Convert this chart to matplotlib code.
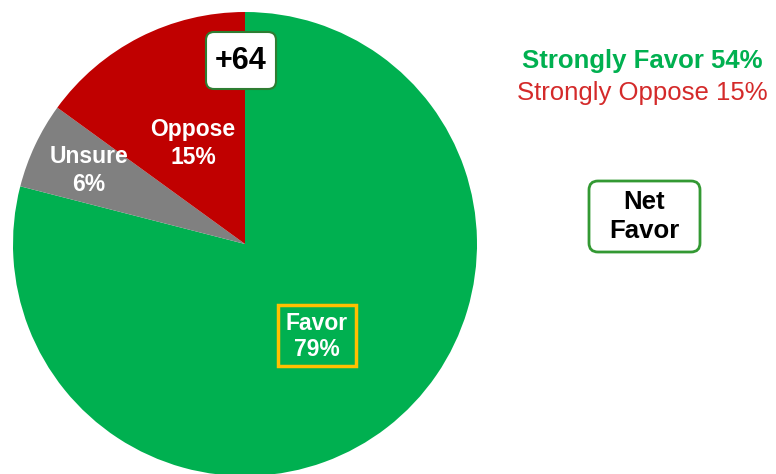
import matplotlib
matplotlib.use("Agg")
import matplotlib.pyplot as plt
from matplotlib.patches import FancyBboxPatch, Rectangle

plt.rcParams['font.family'] = ['Liberation Sans', 'DejaVu Sans']

categories = ["Favor", "Unsure", "Oppose"]
values = [79, 6, 15]
colors = ["#00B050", "#808080", "#C00000"]
strongly_favor = 54
strongly_oppose = 15
net_favor = values[0] - values[2]

W, H = 776, 474
fig = plt.figure(figsize=(W / 100, H / 100), dpi=100)
ax = fig.add_axes([0, 0, 1, 1])

def Y(y):
    return H - y

ax.pie(values, colors=colors, startangle=90, counterclock=False,
       center=(245, Y(244)), radius=232, frame=True,
       wedgeprops=dict(linewidth=0))
ax.set_xlim(0, W)
ax.set_ylim(0, H)
ax.axis('off')

fs = 16.5
# Favor label with gold box
ax.add_patch(Rectangle((278, Y(366)), 78, 61, fill=False, edgecolor="#FFC000", linewidth=2.5))
ax.text(317, Y(323), categories[0], color="white", fontsize=fs, fontweight="bold", ha="center", va="center")
ax.text(317, Y(350), f"{values[0]}%", color="white", fontsize=fs, fontweight="bold", ha="center", va="center")

# Unsure
ax.text(89, Y(156), categories[1], color="white", fontsize=fs, fontweight="bold", ha="center", va="center")
ax.text(89, Y(184), f"{values[1]}%", color="white", fontsize=fs, fontweight="bold", ha="center", va="center")

# Oppose
ax.text(193, Y(129), categories[2], color="white", fontsize=fs, fontweight="bold", ha="center", va="center")
ax.text(193, Y(157), f"{values[2]}%", color="white", fontsize=fs, fontweight="bold", ha="center", va="center")

# +64 box
ax.add_patch(FancyBboxPatch((206, Y(89)), 70, 57, boxstyle="round,pad=0,rounding_size=8",
                            facecolor="white", edgecolor="#2E7D32", linewidth=1.5))
ax.text(241, Y(61), f"+{net_favor}", color="black", fontsize=22, fontweight="bold", ha="center", va="center")

# Right side texts
ax.text(642, Y(61), f"Strongly Favor {strongly_favor}%", color="#00B050", fontsize=18.5,
        fontweight="bold", ha="center", va="center")
ax.text(642, Y(93), f"Strongly Oppose {strongly_oppose}%", color="#D42A2A", fontsize=18.5,
        ha="center", va="center")

# Net Favor box
ax.add_patch(FancyBboxPatch((589, Y(252)), 111, 71, boxstyle="round,pad=0,rounding_size=9",
                            facecolor="white", edgecolor="#339933", linewidth=2))
ax.text(644, Y(202), "Net", color="black", fontsize=18.5, fontweight="bold", ha="center", va="center")
ax.text(644, Y(231), "Favor", color="black", fontsize=18.5, fontweight="bold", ha="center", va="center")

fig.savefig("out.png", dpi=100)
